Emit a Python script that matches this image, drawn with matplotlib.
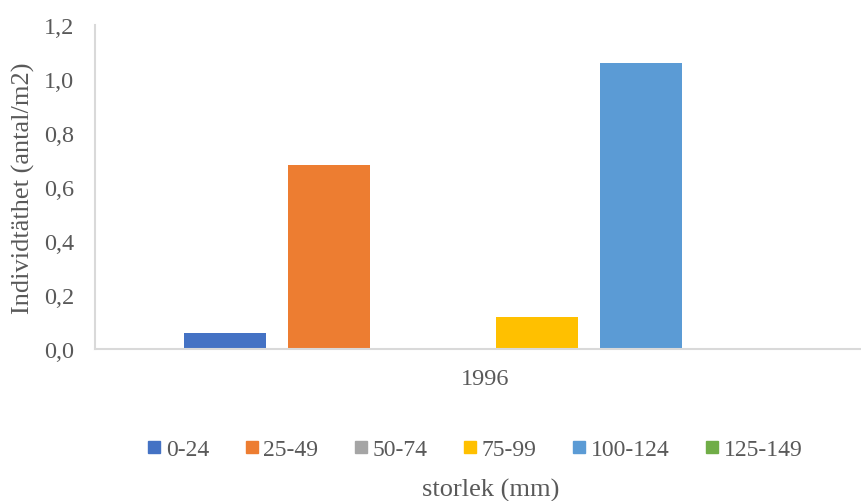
import matplotlib
matplotlib.use("Agg")
import matplotlib.pyplot as plt
from matplotlib.lines import Line2D

plt.rcParams['font.family'] = ['Liberation Serif', 'DejaVu Serif']

categories = ["0-24", "25-49", "50-74", "75-99", "100-124", "125-149"]
values = [0.06, 0.68, 0.0, 0.12, 1.06, 0.0]
colors = ["#4472C4", "#ED7D31", "#A5A5A5", "#FFC000", "#5B9BD5", "#70AD47"]
year_label = "1996"
yticks = [0.0, 0.2, 0.4, 0.6, 0.8, 1.0, 1.2]

text_color = "#595959"
axis_color = "#D9D9D9"

fig = plt.figure(figsize=(8.62, 5.02), dpi=100)
ax = fig.add_axes([95/862, (502-350)/502, (862-95)/862, (350-26)/502])

positions = list(range(len(categories)))
ax.bar(positions, values, width=0.79, color=colors)

ax.set_xlim(-1.25, 6.125)
ax.set_ylim(0, 1.2)
ax.set_yticks(yticks)
ax.set_yticklabels([f"{v:.1f}".replace(".", ",") for v in yticks])
ax.set_xticks([(positions[0] + positions[-1]) / 2])
ax.set_xticklabels([year_label])
ax.tick_params(axis='both', length=0, labelsize=17.5, colors=text_color)
ax.tick_params(axis='y', pad=15)
ax.tick_params(axis='x', pad=14)

for side in ("top", "right"):
    ax.spines[side].set_visible(False)
for side in ("left", "bottom"):
    ax.spines[side].set_color(axis_color)
    ax.spines[side].set_linewidth(1.5)

ax.set_ylabel("Individtäthet (antal/m2)", fontsize=19, color=text_color, labelpad=6)

handles = [Line2D([], [], marker='s', linestyle='none', markersize=8,
                  markerfacecolor=c, markeredgecolor=c) for c in colors]
fig.legend(handles, categories, loc='center', bbox_to_anchor=(475.5/862, (502-450)/502),
           ncol=6, frameon=False, fontsize=17, labelcolor=text_color,
           handlelength=0.5, handletextpad=0.25, columnspacing=1.55)

fig.text(491/862, (502-490)/502, "storlek (mm)", ha='center', va='center',
         fontsize=19, color=text_color)

fig.savefig("out.png", dpi=100, facecolor="white")
